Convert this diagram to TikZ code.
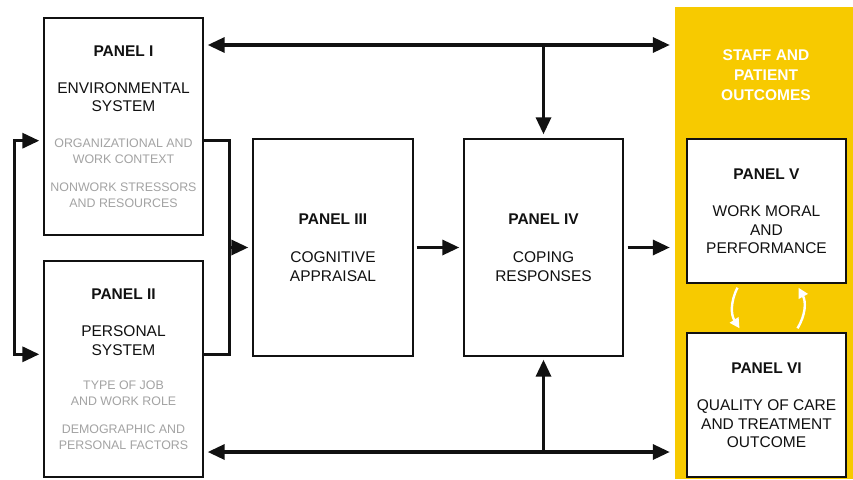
\documentclass[tikz,border=0pt]{standalone}
\usepackage{fontspec}
\setmainfont{Liberation Sans}
\usetikzlibrary{arrows.meta,positioning,calc}
\definecolor{gold}{HTML}{F7CA00}
\definecolor{ink}{HTML}{111111}
\definecolor{faded}{HTML}{A3A3A3}
\tikzset{
  panel/.style={rectangle,draw=ink,line width=1.4pt,fill=white,align=center,text=ink,font=\fontsize{15.5}{18.5}\selectfont,minimum width=159pt,inner sep=0pt},
  bar/.style={line width=3.3pt,ink},
  flow/.style={-{Triangle[length=17pt,width=15pt]},line width=3.3pt,ink},
  twoway/.style={{Triangle[length=17pt,width=15pt]}-{Triangle[length=17pt,width=15pt]},line width=3.3pt,ink},
  backflow/.style={-{Triangle[length=10pt,width=10pt]},line width=2.4pt,white}
}
\newcommand{\faint}[1]{{\color{faded}\fontsize{12.4}{16}\selectfont #1}}

\begin{document}
\begin{tikzpicture}[x=1pt,y=-1pt]
  \useasboundingbox (0,0) rectangle (853,479);

  \node[rectangle,fill=gold,minimum width=178pt,minimum height=472pt,inner sep=0pt] (outcomes) at (764,243) {};
  \node[font=\bfseries\fontsize{15.5}{20}\selectfont,text=white,align=center] (staff) at (766,75) {STAFF AND\\PATIENT\\OUTCOMES};

  \node[panel,minimum height=217pt] (p1) at (123.5,126.5) {{\bfseries PANEL I}\\[18.5pt]ENVIRONMENTAL\\SYSTEM\\[17.5pt]\faint{ORGANIZATIONAL AND}\\[-2.5pt]\faint{WORK CONTEXT}\\[9.5pt]\faint{NONWORK STRESSORS}\\[-2.5pt]\faint{AND RESOURCES}};
  \node[panel,minimum height=216pt] (p2) at (123.5,369) {{\bfseries PANEL II}\\[18.5pt]PERSONAL\\SYSTEM\\[15.5pt]\faint{TYPE OF JOB}\\[-2.5pt]\faint{AND WORK ROLE}\\[9.5pt]\faint{DEMOGRAPHIC AND}\\[-2.5pt]\faint{PERSONAL FACTORS}};
  \node[panel,minimum width=160pt,minimum height=217pt] (p3) at (333,247.5) {{\bfseries PANEL III}\\[20pt]COGNITIVE\\APPRAISAL};
  \node[panel,minimum height=217pt] (p4) at (543.5,247.5) {{\bfseries PANEL IV}\\[20pt]COPING\\RESPONSES};
  \node[panel,minimum height=144pt] (p5) at (766.5,211) {{\bfseries PANEL V}\\[19pt]WORK MORAL\\AND\\PERFORMANCE};
  \node[panel,minimum height=144pt] (p6) at (766.5,405) {{\bfseries PANEL VI}\\[19pt]QUALITY OF CARE\\AND TREATMENT\\OUTCOME};

  \coordinate (toprow) at (0,45);
  \coordinate (botrow) at (0,452);
  \coordinate (hook1) at ($(p1.south east)+(0,-95)$);
  \coordinate (hook2) at ($(p2.north east)+(0,94)$);
  \coordinate (merge) at ($(hook1)+(26,0)$);

  % feedback lines along top and bottom
  \draw[twoway] ($(p1.east |- toprow)+(4,0)$) -- ($(outcomes.west |- toprow)+(-5,0)$);
  \draw[twoway] ($(p2.east |- botrow)+(4,0)$) -- ($(outcomes.west |- botrow)+(-5,0)$);
  \draw[flow] (p4.north |- toprow) -- ($(p4.north)+(0,-4)$);
  \draw[flow] (p4.south |- botrow) -- ($(p4.south)+(0,3)$);

  % panels I and II into III
  \draw[bar] (hook1) -- (merge) |- (hook2);
  \draw[flow] (merge |- p3.west) -- ($(p3.west)+(-4,0)$);
  \draw[twoway] ($(hook1 -| p1.west)+(-4,0)$) -- ++(-25,0) |- ($(hook2 -| p2.west)+(-4,0)$);

  \draw[flow] ($(p3.east)+(3,0)$) -- ($(p4.west)+(-4,0)$);
  \draw[flow] ($(p4.east)+(4,0)$) -- ($(p4.east -| outcomes.west)+(-5,0)$);

  % loop between V and VI
  \draw[backflow] ($(p5.south)+(-29,4)$) to[bend right=30] ($(p6.north)+(-27,-4)$);
  \draw[backflow] ($(p6.north)+(31,-4)$) to[bend right=30] ($(p5.south)+(32,4)$);
\end{tikzpicture}
\end{document}
